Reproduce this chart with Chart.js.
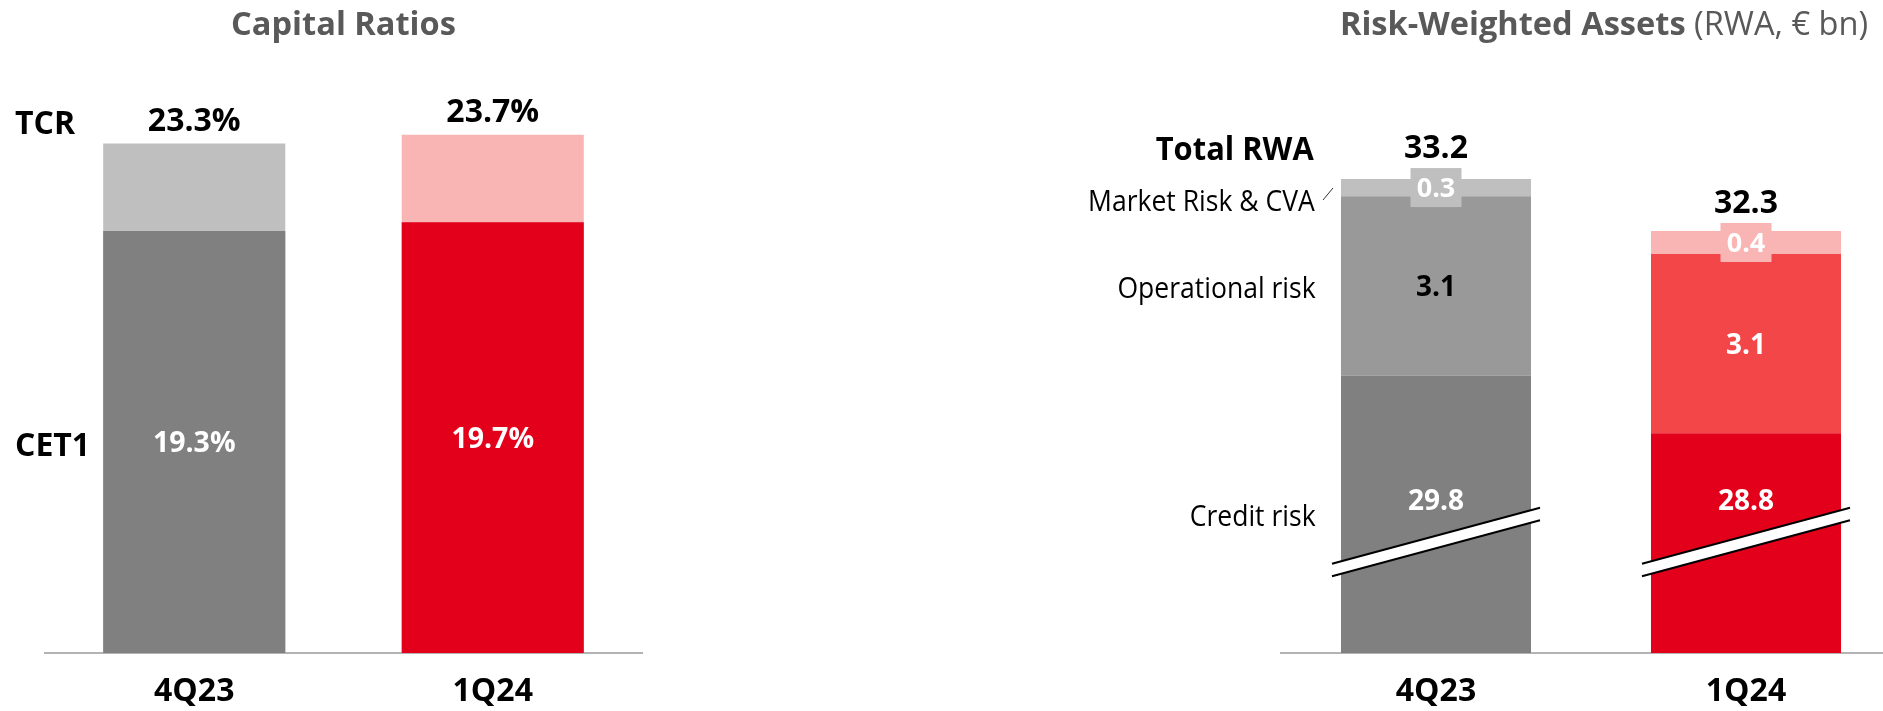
<!DOCTYPE html>
<html>
<head>
<meta charset="utf-8">
<script src="https://cdn.jsdelivr.net/npm/chart.js@4/dist/chart.umd.min.js"></script>
<style>
  html, body { margin: 0; padding: 0; width: 1883px; height: 711px; overflow: hidden; background: #fff; }
  body { position: relative; font-family: "Open Sans", sans-serif; }
  canvas { position: absolute; top: 0; }
  #capital { left: 0; }
  #rwa { left: 1000px; }
  .lbl { position: absolute; white-space: nowrap; line-height: 1; color: #000; }
  .title { color: #595959; font-weight: 700; font-size: 32.6px; }
  .title span { font-weight: 400; }
  .row { font-weight: 700; font-size: 32px; }
  .seg { font-weight: 400; font-size: 29px; transform: scaleX(0.915); transform-origin: right center; }
</style>
</head>
<body>
<canvas id="capital" width="700" height="711"></canvas>
<canvas id="rwa" width="920" height="711"></canvas>

<div class="lbl title" style="left:0; width:687px; text-align:center; top:7px;">Capital Ratios</div>
<div class="lbl title" style="right:15px; top:7px;">Risk-Weighted Assets <span>(RWA, € bn)</span></div>

<div class="lbl row" style="left:15px; top:106px;">TCR</div>
<div class="lbl row" style="left:15px; top:428px;">CET1</div>

<div class="lbl row" style="right:569px; top:132px; transform:scaleX(0.965); transform-origin:right center;">Total RWA</div>
<div class="lbl seg" style="right:568px; top:185px;">Market Risk &amp; CVA</div>
<div class="lbl seg" style="right:567px; top:272px;">Operational risk</div>
<div class="lbl seg" style="right:567px; top:500px;">Credit risk</div>
<svg style="position:absolute; left:1320px; top:185px;" width="16" height="18">
  <line x1="3" y1="15" x2="13" y2="3" stroke="#333" stroke-width="1"/>
</svg>

<script>
// Quarters shown on both panels
const quarters = ['4Q23', '1Q24'];

// Capital ratios (%)
const cet1Ratio = [19.3, 19.7];
const tcrRatio = [23.3, 23.7];

// Risk-weighted assets by type (€ bn)
const creditRisk = [29.8, 28.8];
const operationalRisk = [3.1, 3.1];
const marketRiskCva = [0.3, 0.4];
const totalRwa = [33.2, 32.3];

const FONT = 'Open Sans';
const GREY = '#808080', RED = '#e2001a';
const AXIS_COLOR = '#b3b3b3';
// value at which the RWA columns are cut (axis starts above zero)
const RWA_AXIS_MIN = 25;
const RWA_BREAK_AT = 26.92;

function fmt(v) { return v.toFixed(1); }

function drawText(ctx, text, x, cy, size, weight, color) {
  ctx.save();
  ctx.font = weight + ' ' + size + 'px "' + FONT + '"';
  ctx.fillStyle = color;
  ctx.textAlign = 'center';
  ctx.textBaseline = 'alphabetic';
  ctx.fillText(text, x, cy + size * 0.357);
  ctx.restore();
}

function xAxis() {
  return {
    grid: { display: false, drawTicks: false },
    border: { display: true, color: AXIS_COLOR, width: 2 },
    ticks: { color: '#000', font: { family: FONT, weight: 'bold', size: 32 }, padding: 20 },
    afterFit(scale) { scale.height = 58; }
  };
}

// ---- Capital ratios ----
const capitalLabels = {
  id: 'capitalLabels',
  afterDatasetsDraw(chart) {
    const ctx = chart.ctx;
    const cetMeta = chart.getDatasetMeta(0);
    const tcrMeta = chart.getDatasetMeta(1);
    quarters.forEach((q, i) => {
      const t = tcrMeta.data[i];
      drawText(ctx, fmt(tcrRatio[i]) + '%', t.x, t.y - 24.5, 32, 'bold', '#000');
      const c = cetMeta.data[i];
      drawText(ctx, fmt(cet1Ratio[i]) + '%', c.x, (c.y + c.base) / 2, 28.5, 'bold', '#fff');
    });
  }
};

new Chart(document.getElementById('capital'), {
  type: 'bar',
  data: {
    labels: quarters,
    datasets: [
      { label: 'CET1', data: cet1Ratio, backgroundColor: [GREY, RED], order: 0 },
      { label: 'TCR', data: tcrRatio, backgroundColor: ['#bfbfbf', '#f9b4b4'], order: 1 }
    ]
  },
  options: {
    responsive: false,
    animation: false,
    layout: { padding: { left: 45, right: 58, top: 19, bottom: 0 } },
    datasets: { bar: { grouped: false, barPercentage: 0.61, categoryPercentage: 1 } },
    plugins: { legend: { display: false }, tooltip: { enabled: false } },
    scales: {
      x: xAxis(),
      y: { display: false, min: 0, max: 29 }
    }
  },
  plugins: [capitalLabels]
});

// ---- Risk-weighted assets ----
const rwaLabels = {
  id: 'rwaLabels',
  afterDatasetsDraw(chart) {
    const ctx = chart.ctx;
    const yScale = chart.scales.y;
    const credit = chart.getDatasetMeta(0);
    const oper = chart.getDatasetMeta(1);
    const market = chart.getDatasetMeta(2);
    const opColors = ['#000', '#fff'];
    const mkColors = ['#bfbfbf', '#f9b4b4'];
    quarters.forEach((q, i) => {
      // axis break across the credit risk column
      const c = credit.data[i];
      const yc = yScale.getPixelForValue(RWA_BREAK_AT);
      const half = c.width / 2 + 9;
      const dy = half * 0.269;
      const gap = 6.25;
      ctx.save();
      ctx.fillStyle = '#fff';
      ctx.beginPath();
      ctx.moveTo(c.x - half, yc + dy - gap);
      ctx.lineTo(c.x + half, yc - dy - gap);
      ctx.lineTo(c.x + half, yc - dy + gap);
      ctx.lineTo(c.x - half, yc + dy + gap);
      ctx.closePath();
      ctx.fill();
      ctx.strokeStyle = '#000';
      ctx.lineWidth = 2;
      ctx.beginPath();
      ctx.moveTo(c.x - half, yc + dy - gap);
      ctx.lineTo(c.x + half, yc - dy - gap);
      ctx.moveTo(c.x - half, yc + dy + gap);
      ctx.lineTo(c.x + half, yc - dy + gap);
      ctx.stroke();
      ctx.restore();
      drawText(ctx, fmt(creditRisk[i]), c.x, yc - 42, 28, 'bold', '#fff');

      // operational risk value
      const o = oper.data[i];
      drawText(ctx, fmt(operationalRisk[i]), o.x, (o.y + o.base) / 2, 28, 'bold', opColors[i]);

      // market risk value in a tab
      const m = market.data[i];
      const mc = (m.y + m.base) / 2;
      ctx.save();
      ctx.fillStyle = mkColors[i];
      ctx.fillRect(m.x - 25.5, mc - 19.5, 51, 39);
      ctx.restore();
      drawText(ctx, fmt(marketRiskCva[i]), m.x, mc, 27, 'bold', '#fff');

      // total
      drawText(ctx, fmt(totalRwa[i]), m.x, mc - 40.5, 32, 'bold', '#000');
    });
  }
};

new Chart(document.getElementById('rwa'), {
  type: 'bar',
  data: {
    labels: quarters,
    datasets: [
      { label: 'Credit risk', data: creditRisk, backgroundColor: [GREY, RED], clip: 0 },
      { label: 'Operational risk', data: operationalRisk, backgroundColor: ['#999999', '#f24649'], clip: 0 },
      { label: 'Market Risk & CVA', data: marketRiskCva, backgroundColor: ['#bfbfbf', '#f9b4b4'], clip: 0 }
    ]
  },
  options: {
    responsive: false,
    animation: false,
    layout: { padding: { left: 281, right: 19, top: 17, bottom: 0 } },
    datasets: { bar: { barPercentage: 0.613, categoryPercentage: 1 } },
    plugins: { legend: { display: false }, tooltip: { enabled: false } },
    scales: {
      x: Object.assign(xAxis(), { stacked: true }),
      y: { display: false, stacked: true, min: RWA_AXIS_MIN, max: 36 }
    }
  },
  plugins: [rwaLabels]
});
</script>
</body>
</html>
